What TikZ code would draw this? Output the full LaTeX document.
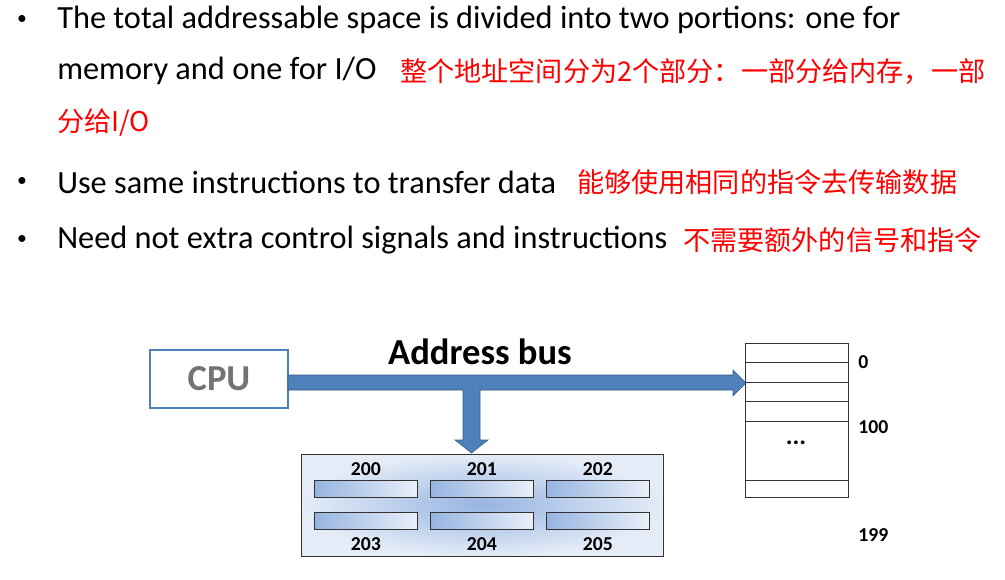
\documentclass[tikz,border=0pt]{standalone}
\usepackage{fontspec}
\setmainfont{Carlito}
\newfontfamily\cjk{Noto Sans CJK SC}
\usetikzlibrary{positioning}
\definecolor{busblue}{RGB}{79,129,189}
\definecolor{cellblue}{RGB}{150,180,225}
\tikzset{
line/.style={anchor=west,font=\fontsize{23}{27}\selectfont,inner sep=0pt},
cn/.style={anchor=west,font=\fontsize{19.3}{23}\selectfont\cjk,text=red,inner sep=0pt},
dot/.style={anchor=center,font=\fontsize{14}{16}\selectfont,inner sep=0pt},
num/.style={font=\bfseries\fontsize{14}{16}\selectfont,inner sep=0pt},
cell/.style={draw=black!80,left color=cellblue,right color=cellblue!20,minimum width=103*0.025cm,minimum height=17*0.025cm,inner sep=0pt,anchor=north west},
slot/.style={draw=black!80,thin},
}
\begin{document}
\begin{tikzpicture}[x=0.025cm,y=-0.025cm]
\useasboundingbox (0,0) rectangle (1005,579);
% bullet text
\node[dot] (b1) at (22,20) {•};
\node[line] (t1) at (57,20) {The total addressable space is divided into two portions: one for};
\node[line] (t2) at (57,71) {memory and one for I/O};
\node[cn] (c2) at (400,71) {整个地址空间分为2个部分：一部分给内存，一部};
\node[cn] (c3) at (57,123) {分给I/O};
\node[dot] (b2) at (22,182) {•};
\node[line] (t4) at (57,182) {Use same instructions to transfer data};
\node[cn] (c4) at (577,182) {能够使用相同的指令去传输数据};
\node[dot] (b3) at (22,240) {•};
\node[line] (t5) at (57,240) {Need not extra control signals and instructions};
\node[cn] (c5) at (683,240) {不需要额外的信号和指令};
% cpu and bus
\node[draw=busblue,line width=1.5pt,minimum width=138*0.025cm,minimum height=58*0.025cm,font=\bfseries\fontsize{26}{30}\selectfont,text=black!55] (cpu) at (219,379) {CPU};
\node[font=\bfseries\fontsize{26}{30}\selectfont] (abus) at (480,352) {Address bus};
\fill[busblue,draw=busblue!70!black] (288,375) -- (733,375) -- (733,370) -- (746,383) -- (733,396) -- (733,390)
  -- (480,390) -- (480,440) -- (488,440) -- (471.5,453) -- (455,440) -- (463,440) -- (463,390) -- (288,390) -- cycle;
% io block
\node[draw=black!80,inner sep=0pt,minimum width=362*0.025cm,minimum height=102*0.025cm,anchor=north west,
  shading=radial,inner color=cellblue,outer color=cellblue!25] (io) at (301,454) {};
\foreach \x/\a/\b in {314/200/203,430/201/204,546/202/205}{
  \node[cell] (u\a) at (\x,480) {};
  \node[cell] (u\b) at (\x,512) {};
  \node[num,above=4*0.025cm of u\a] (n\a) {\a};
  \node[num,below=8*0.025cm of u\b] (n\b) {\b};
}
% memory column
\node[draw=black!80,minimum width=103*0.025cm,minimum height=154*0.025cm,inner sep=0pt,anchor=north west] (mem) at (745,343) {};
\foreach \y in {362,382,401,421,480}
  \draw[slot] (745,\y) -- (848,\y);
\node[font=\bfseries\fontsize{18}{20}\selectfont,inner sep=0pt] (dots) at (796,443) {...};
\node[num,anchor=west] (m0) at (858,362) {0};
\node[num,anchor=west] (m100) at (858,427) {100};
\node[num,anchor=west] (m199) at (858,535) {199};
\end{tikzpicture}
\end{document}
